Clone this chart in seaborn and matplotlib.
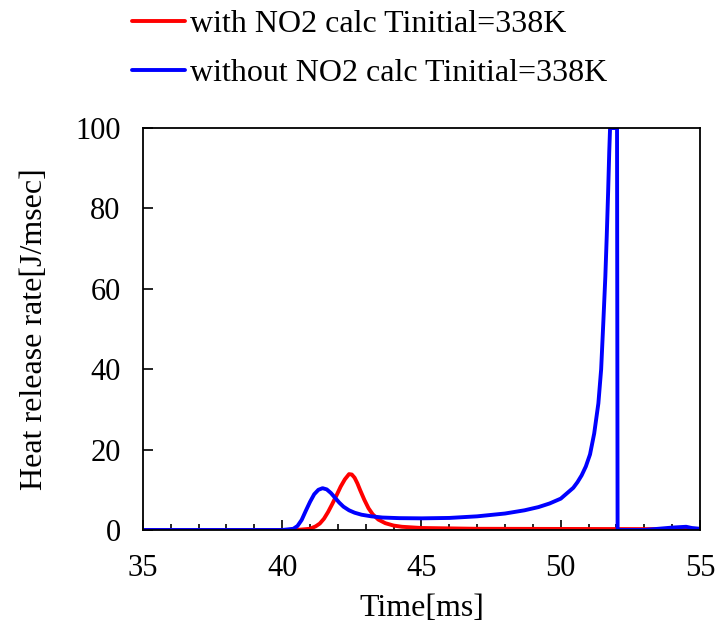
import numpy as np
import pandas as pd
import seaborn as sns
import matplotlib
matplotlib.use("Agg")
import matplotlib.pyplot as plt
from matplotlib.ticker import MultipleLocator

# time [ms] and heat release rate [J/msec]
red_time = [35, 40.5, 41.0, 41.2, 41.35, 41.5, 41.65, 41.8, 41.95, 42.1, 42.25,
            42.4, 42.5, 42.6, 42.7, 42.8, 42.95, 43.1, 43.25, 43.45, 43.7,
            44.0, 44.3, 45, 47, 55]
red_hrr = [0, 0, 0.3, 0.9, 1.6, 2.8, 4.5, 6.5, 8.6, 10.8, 12.6,
           13.9, 13.8, 13.0, 11.6, 9.9, 7.5, 5.4, 3.9, 2.6, 1.7,
           1.1, 0.8, 0.5, 0.3, 0.2]

blue_time = [35, 40.0, 40.4, 40.55, 40.7, 40.85, 41.0, 41.15, 41.3, 41.45, 41.6,
             41.75, 41.9, 42.05, 42.2, 42.4, 42.6, 42.85, 43.2, 43.6, 44.2,
             45.0, 46.0, 47.0, 48.0, 48.7, 49.2, 49.6, 50.0, 50.2, 50.45,
             50.6, 50.75, 50.9, 51.05, 51.2, 51.35, 51.45, 51.53, 51.6, 51.65,
             51.7, 51.74, 51.77, 52.02, 52.04, 53.0, 53.5, 54.0, 54.5, 54.7, 55]
blue_hrr = [0, 0, 0.3, 1.0, 2.5, 4.8, 7.0, 8.9, 10.0, 10.4, 10.1,
            9.2, 8.0, 6.8, 5.8, 4.9, 4.3, 3.8, 3.4, 3.1, 2.95,
            2.9, 3.0, 3.4, 4.1, 4.9, 5.7, 6.6, 7.8, 9.0, 10.5,
            11.9, 13.6, 15.8, 18.8, 24.0, 31.5, 40, 52, 63, 73,
            84, 94, 100, 100, 0, 0, 0.3, 0.6, 0.8, 0.5, 0.3]

labels = ["with NO2 calc Tinitial=338K", "without NO2 calc Tinitial=338K"]

sns.set_style("ticks")
plt.rcParams['font.family'] = ['Liberation Serif', 'DejaVu Serif']
plt.rcParams['text.color'] = 'black'
plt.rcParams['axes.labelcolor'] = 'black'
plt.rcParams['xtick.color'] = 'black'
plt.rcParams['ytick.color'] = 'black'
plt.rcParams['xtick.direction'] = 'in'
plt.rcParams['ytick.direction'] = 'in'

df_red = pd.DataFrame({"Time": red_time, "HRR": red_hrr})
df_blue = pd.DataFrame({"Time": blue_time, "HRR": blue_hrr})

fig = plt.figure(figsize=(7.18, 6.32), dpi=100)
ax = fig.add_axes([0.199, 0.1614, 0.776, 0.636])

sns.lineplot(data=df_red, x="Time", y="HRR", color="#FF0000", linewidth=2.8,
             estimator=None, ax=ax, label=labels[0])
sns.lineplot(data=df_blue, x="Time", y="HRR", color="#0000FF", linewidth=2.8,
             estimator=None, ax=ax, label=labels[1])

ax.set_xlim(35, 55)
ax.set_ylim(0, 100)
ax.xaxis.set_major_locator(MultipleLocator(5))
ax.xaxis.set_minor_locator(MultipleLocator(1))
ax.yaxis.set_major_locator(MultipleLocator(20))
ax.tick_params(axis='both', which='major', length=7, width=1.2, labelsize=22)
ax.tick_params(axis='x', which='major', pad=17)
ax.tick_params(axis='y', which='major', pad=16)
ax.tick_params(axis='x', which='minor', length=4, width=1.2)
ax.tick_params(top=False, right=False)
for s in ax.spines.values():
    s.set_visible(True)
    s.set_linewidth(1.3)
    s.set_color("black")

ax.set_xlabel("Time[ms]", fontsize=23, labelpad=8)
ax.set_ylabel("Heat release rate[J/msec]", fontsize=23, labelpad=19)

handles, labs = ax.get_legend_handles_labels()
ax.get_legend().remove()
fig.legend(handles, labs, loc='upper left', bbox_to_anchor=(0.184, 0.984),
           frameon=False, fontsize=23, handlelength=1.65, handletextpad=0.15,
           labelspacing=0.6, borderpad=0, borderaxespad=0)

fig.savefig("out.png", dpi=100)
